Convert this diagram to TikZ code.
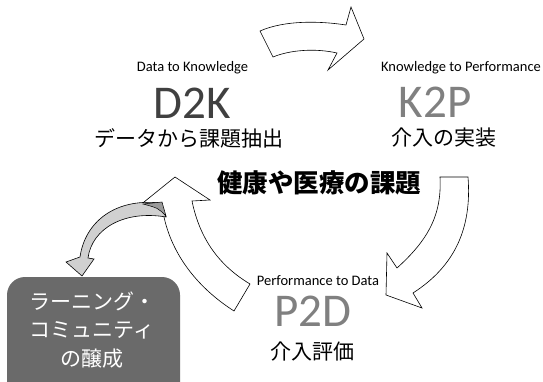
\documentclass[tikz,border=0pt]{standalone}
\usepackage{fontspec}
\setmainfont{Carlito}
\newfontfamily\jp{Noto Sans CJK JP}
\definecolor{dk}{HTML}{404040}
\definecolor{lt}{HTML}{808080}
\definecolor{boxgray}{HTML}{6A6A6A}
\definecolor{arrgray}{HTML}{D0D0D0}
\definecolor{twist}{HTML}{9A9A9A}
\tikzset{
  cyc/.style={draw=black, line width=0.6pt, fill=white, line join=miter},
  small/.style={inner sep=0pt, font=\fontsize{14.5}{15}\selectfont},
  big/.style={inner sep=0pt, font=\fontsize{47}{47}\selectfont},
  jpt/.style={inner sep=0pt, font=\jp\fontsize{21}{22}\selectfont},
  boxtxt/.style={inner sep=0pt, text=white, align=center, font=\jp\fontsize{21}{28.5}\selectfont},
}
\begin{document}
\begin{tikzpicture}[x=1pt,y=-1pt]
\useasboundingbox (0,0) rectangle (543,382);
% learning community box
\fill[boxgray, rounded corners=18pt] (7,277) rectangle (180,400);
\node[boxtxt] (lc) at (92,330) {ラーニング・\\コミュニティ\\の醸成};
% top arrow D2K -> K2P
\draw[cyc] (260,31) .. controls (285,20) and (320,21) .. (346,25) -- (351,7) -- (364,39) -- (328,70) -- (337,53) .. controls (315,48) and (290,50) .. (273,57) -- cycle;
% right arrow K2P -> P2D
\draw[cyc] (440,177) -- (468,177) .. controls (472,228) and (455,266) .. (413,293) -- (422,308) -- (386,295) -- (387,253) -- (397,268) .. controls (428,240) and (442,215) .. (440,177) -- cycle;
% left arrow P2D -> D2K
\draw[cyc] (175,177) -- (210,200) -- (192,201) .. controls (200,240) and (220,266) .. (250,284) -- (234,311) .. controls (195,286) and (168,250) .. (162,206) -- (144,202) -- cycle;
% gray arrow to learning community
\draw[draw=black, line width=0.6pt, fill=arrgray] (160,203) .. controls (115,198) and (85,222) .. (80,257) -- (66,262) -- (82,276) -- (94,259) -- (88,258) .. controls (92,228) and (125,210) .. (166,217) -- cycle;
\draw[draw=black, line width=0.5pt, fill=twist] (143,204) -- (162,202) -- (166,216) .. controls (158,208) .. (143,204) -- cycle;
% texts
\node[small] (d2ken) at (192.5,68) {Data to Knowledge};
\node[big, text=dk] (d2k) at (192,103) {D2K};
\node[jpt] (d2kjp) at (189,138) {データから課題抽出};
\node[small] (k2pen) at (461,68) {Knowledge to Performance};
\node[big, text=lt] (k2p) at (435,102) {K2P};
\node[jpt] (k2pjp) at (444,138) {介入の実装};
\node[small] (p2den) at (318,281) {Performance to Data};
\node[big, text=lt] (p2d) at (313,311) {P2D};
\node[jpt] (p2djp) at (312,352) {介入評価};
\node[inner sep=0pt, font=\jp\bfseries\fontsize{25.5}{26}\selectfont] (title) at (319,183) {健康や医療の課題};
\end{tikzpicture}
\end{document}
